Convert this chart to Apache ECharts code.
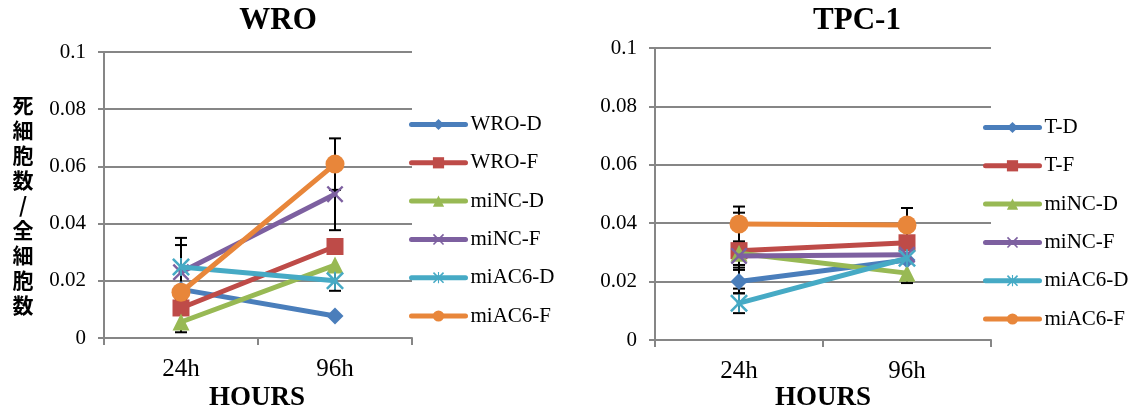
<!DOCTYPE html>
<html>
<head>
<meta charset="utf-8">
<script src="https://cdn.jsdelivr.net/npm/echarts@6/dist/echarts.min.js"></script>
<style>
html, body { margin: 0; padding: 0; background: #fff; }
#main { width: 1133px; height: 415px; }
</style>
</head>
<body>
<div id="main"></div>
<script>
// data
var hours = ['24h', '96h'];

var wroNames = ['WRO-D', 'WRO-F', 'miNC-D', 'miNC-F', 'miAC6-D', 'miAC6-F'];
var wroValues = [
  [0.017, 0.0077],
  [0.0105, 0.032],
  [0.0056, 0.0255],
  [0.023, 0.0503],
  [0.0248, 0.020],
  [0.016, 0.0608]
];
var wroErrors = [
  [0, 0],
  [0, 0],
  [0.0036, 0],
  [0.0095, 0.0126],
  [0.0102, 0.0035],
  [0, 0.009]
];

var tpcNames = ['T-D', 'T-F', 'miNC-D', 'miNC-F', 'miAC6-D', 'miAC6-F'];
var tpcValues = [
  [0.020, 0.0274],
  [0.0306, 0.0333],
  [0.0297, 0.0229],
  [0.0288, 0.0292],
  [0.0126, 0.028],
  [0.0397, 0.0394]
];
var tpcErrors = [
  [0.004, 0],
  [0.013, 0],
  [0.004, 0.0034],
  [0.004, 0],
  [0.0034, 0],
  [0.006, 0.0058]
];

var colors = ['#4A7EBB', '#BE4B48', '#98B954', '#7D60A0', '#46AAC5', '#E8863A'];
var xMark = 'path://M1,0 L5,4 L9,0 L10,1 L6,5 L10,9 L9,10 L5,6 L1,10 L0,9 L4,5 L0,1 Z';
var starMark = xMark + ' M4.5,0 L5.5,0 L5.5,3.8 L4.5,3.8 Z M4.5,6.2 L5.5,6.2 L5.5,10 L4.5,10 Z';
var symbols = ['diamond', 'rect', 'triangle', xMark, starMark, 'circle'];
var symbolSizes = [17, 17, 17, 17, 18, 19];

var serif = 'Liberation Serif, Times New Roman, serif';
var grey = '#868686';

function errorBar(params, api) {
  var x = api.value(0);
  var lo = api.coord([x, api.value(1)]);
  var hi = api.coord([x, api.value(2)]);
  var w = 6;
  var st = { stroke: '#000', lineWidth: 2 };
  return {
    type: 'group',
    children: [
      { type: 'line', shape: { x1: lo[0], y1: lo[1], x2: hi[0], y2: hi[1] }, style: st },
      { type: 'line', shape: { x1: lo[0] - w, y1: lo[1], x2: lo[0] + w, y2: lo[1] }, style: st },
      { type: 'line', shape: { x1: hi[0] - w, y1: hi[1], x2: hi[0] + w, y2: hi[1] }, style: st }
    ]
  };
}

function buildSeries(names, values, errors, idx) {
  var out = [];
  var bars = [];
  values.forEach(function (v, i) {
    v.forEach(function (val, j) {
      var e = errors[i][j];
      if (e > 0) bars.push([j, val - e, val + e]);
    });
  });
  out.push({
    type: 'custom',
    xAxisIndex: idx, yAxisIndex: idx,
    renderItem: errorBar,
    data: bars,
    encode: { x: 0, y: [1, 2] },
    z: 1,
    silent: true
  });
  names.forEach(function (n, i) {
    out.push({
      name: n,
      type: 'line',
      xAxisIndex: idx, yAxisIndex: idx,
      data: values[i],
      symbol: symbols[i],
      symbolSize: symbolSizes[i],
      color: colors[i],
      lineStyle: { width: 5, color: colors[i], cap: 'round' },
      itemStyle: { color: colors[i] },
      z: 2 + i,
      emphasis: { disabled: true }
    });
  });
  return out;
}

function xAxisOf(idx) {
  return {
    type: 'category', gridIndex: idx, data: hours, boundaryGap: true,
    axisLine: { lineStyle: { color: grey, width: 2 } },
    axisTick: { show: true, length: 7, lineStyle: { color: grey, width: 2 } },
    axisLabel: { color: '#000', fontFamily: serif, fontSize: 25, margin: 19 }
  };
}

function yAxisOf(idx) {
  return {
    type: 'value', gridIndex: idx, min: 0, max: 0.1, interval: 0.02,
    axisLine: { show: true, lineStyle: { color: grey, width: 2 } },
    axisTick: { show: true, length: 6, lineStyle: { color: grey, width: 2 } },
    splitLine: { lineStyle: { color: grey, width: 2 } },
    axisLabel: {
      color: '#000', fontFamily: serif, fontSize: 21, margin: 18,
      formatter: function (v) { return String(Math.round(v * 100) / 100); }
    }
  };
}

function legendOf(names, left, top) {
  return {
    data: names, orient: 'vertical', left: left, top: top,
    itemWidth: 54, itemHeight: 14, itemGap: 17.3,
    lineStyle: { width: 5, cap: 'round' },
    textStyle: { color: '#000', fontFamily: serif, fontSize: 21, lineHeight: 20, padding: [0, 0, 0, 0] }
  };
}

var myChart = echarts.init(document.getElementById('main'), null, { renderer: 'canvas' });

var option = {
  animation: false,
  backgroundColor: '#fff',
  grid: [
    { left: 104, right: 1133 - 412, top: 52, bottom: 415 - 338 },
    { left: 655, right: 1133 - 991, top: 48, bottom: 415 - 340 }
  ],
  xAxis: [xAxisOf(0), xAxisOf(1)],
  yAxis: [yAxisOf(0), yAxisOf(1)],
  legend: [legendOf(wroNames, 404, 109), legendOf(tpcNames, 978, 112)],
  graphic: [
    { type: 'text', x: 278, y: 21, style: { text: 'WRO', align: 'center', verticalAlign: 'middle', font: 'bold 31px ' + serif, fill: '#000' } },
    { type: 'text', x: 857, y: 21, style: { text: 'TPC-1', align: 'center', verticalAlign: 'middle', font: 'bold 31px ' + serif, fill: '#000' } },
    { type: 'text', x: 257, y: 398, style: { text: 'HOURS', align: 'center', verticalAlign: 'middle', font: 'bold 27px ' + serif, fill: '#000' } },
    { type: 'text', x: 823, y: 398, style: { text: 'HOURS', align: 'center', verticalAlign: 'middle', font: 'bold 27px ' + serif, fill: '#000' } },
    { type: 'text', x: 23, y: 205, style: { text: '死\n細\n胞\n数\n/\n全\n細\n胞\n数', align: 'center', verticalAlign: 'middle', font: 'bold 21px "Noto Sans CJK JP"', lineHeight: 25, fill: '#000' } }
  ],
  series: buildSeries(wroNames, wroValues, wroErrors, 0).concat(buildSeries(tpcNames, tpcValues, tpcErrors, 1))
};

myChart.setOption(option);
</script>
</body>
</html>
